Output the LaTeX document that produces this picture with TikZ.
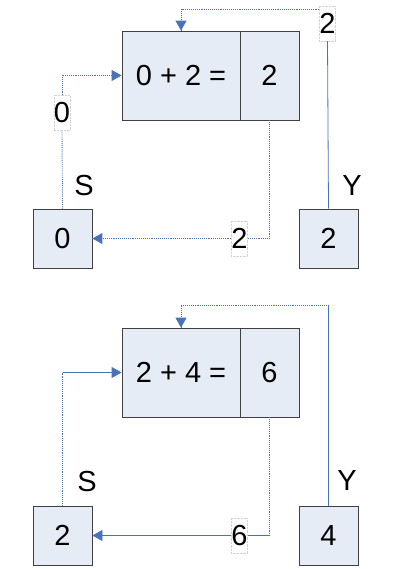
\documentclass[tikz,border=0pt]{standalone}
\usepackage{fontspec}
\setmainfont{Liberation Sans}
\usetikzlibrary{arrows.meta}
\definecolor{boxfill}{HTML}{E6ECF6}
\definecolor{boxline}{HTML}{404040}
\definecolor{conn}{HTML}{4A72B8}
\tikzset{
  box/.style={draw=boxline, line width=0.8pt, fill=boxfill, inner sep=0pt, minimum height=89pt, font=\fontsize{29}{30}\selectfont},
  sq/.style={draw=boxline, line width=0.8pt, fill=boxfill, inner sep=0pt, minimum width=59pt, minimum height=59pt, font=\fontsize{29}{30}\selectfont},
  lab/.style={inner sep=0pt, font=\fontsize{29}{30}\selectfont},
  vallab/.style={fill=white, draw=gray!35, densely dotted, line width=0.4pt, inner sep=0pt, minimum width=15pt, minimum height=35pt, font=\fontsize{29}{30}\selectfont},
  wire/.style={draw=conn, line width=0.8pt},
  dwire/.style={draw=conn, line width=0.9pt, densely dotted},
  tip/.style={-{Triangle[length=10pt,width=11pt]}, conn}
}
\begin{document}
\begin{tikzpicture}[x=1pt,y=-1pt]
\useasboundingbox (0,0) rectangle (405,569);
% ---------- top diagram ----------
\node[box, minimum width=118pt] (eqLa) at (181,75.5) {0 + 2 =};
\node[box, minimum width=59pt] (eqRa) at (269.5,75.5) {2};
\node[sq] (Sa) at (62.5,238.5) {0};
\node[sq] (Ya) at (328.5,238.5) {2};
\node[lab] (SLa) at (84,186) {S};
\node[lab] (YLa) at (352,186) {Y};
\node[vallab] (ta) at (327.5,23.5) {2};
\node[vallab] (la) at (62,113) {0};
\node[vallab] (ba) at (239.5,238.5) {2};
\coordinate (ca) at (181,9);
% Y -> top
\draw[wire] (Ya.north) -- (ta.south);
\draw[dwire] (ta.west |- ca) -- (ca) -- (eqLa.north);
\draw[tip, dwire, solid] ([yshift=1pt]eqLa.north) -- (eqLa.north);
% S -> left
\draw[dwire] (Sa.north) -- (la.south);
\draw[dwire] (la.north) -- (la.north |- eqLa.west) -- (eqLa.west);
\draw[tip, dwire, solid] ([xshift=-1pt]eqLa.west) -- (eqLa.west);
% result -> S
\draw[dwire] (eqRa.south) -- (eqRa.south |- ba.east) -- (ba.east);
\draw[dwire] (ba.west) -- (Sa.east);
\draw[tip, dwire, solid] ([xshift=1pt]Sa.east) -- (Sa.east);
% ---------- bottom diagram ----------
\node[box, minimum width=118pt] (eqLb) at (181,372.5) {2 + 4 =};
\node[box, minimum width=59pt] (eqRb) at (269.5,372.5) {6};
\node[sq] (Sb) at (62.5,535.5) {2};
\node[sq] (Yb) at (328.5,535.5) {4};
\node[lab] (SLb) at (87,482) {S};
\node[lab] (YLb) at (347,481) {Y};
\node[vallab] (bb) at (239.5,535.5) {6};
\coordinate (cb) at (181,305.5);
\coordinate (cbr) at (328.5,305.5);
\coordinate (clb) at (62.5,372.5);
% Y -> top
\draw[wire] (Yb.north) -- (cbr);
\draw[dwire] (cbr) -- (cb) -- (eqLb.north);
\draw[tip, dwire, solid] ([yshift=1pt]eqLb.north) -- (eqLb.north);
% S -> left
\draw[dwire] (Sb.north) -- (clb);
\draw[wire, tip] (clb) -- (eqLb.west);
% result -> S
\draw[dwire] (eqRb.south) -- (eqRb.south |- bb.east);
\draw[wire] (eqRb.south |- bb.east) -- (bb.east);
\draw[wire, tip] (bb.west) -- (Sb.east);
\end{tikzpicture}
\end{document}
